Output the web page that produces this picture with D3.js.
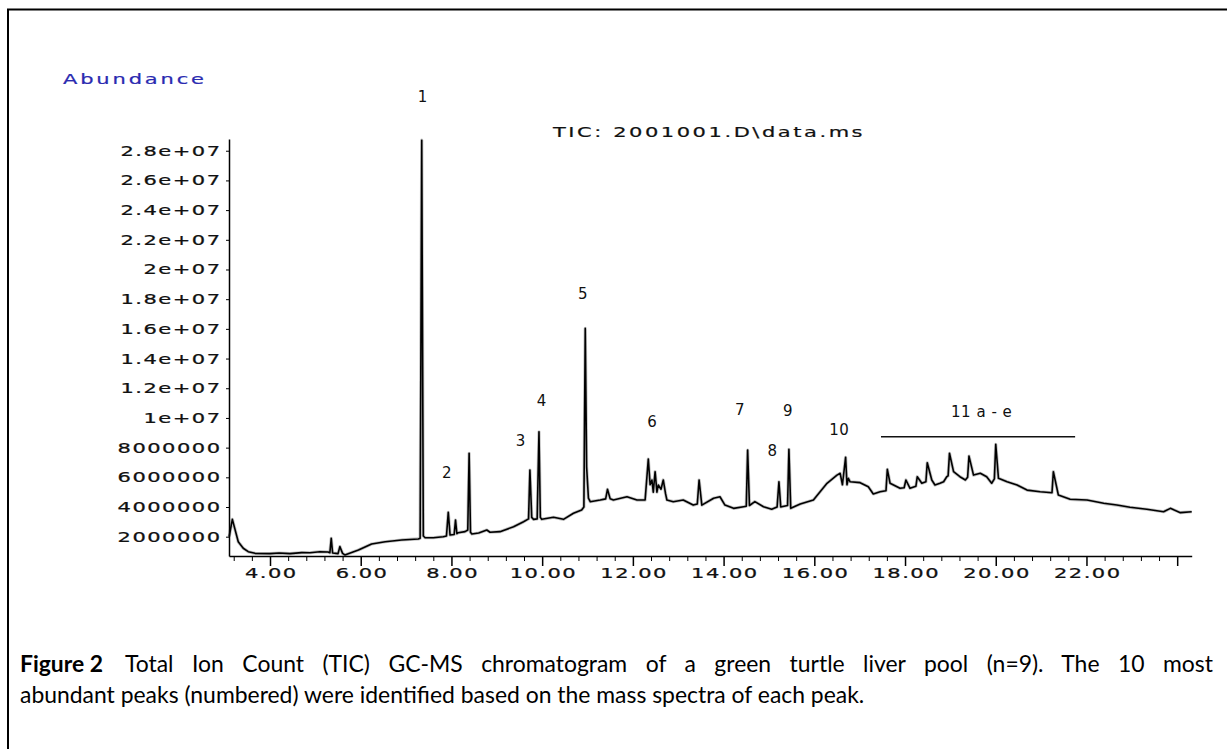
<!doctype html>
<html lang="en">
<head>
  <meta charset="UTF-8">
  <title>TIC GC-MS chromatogram</title>
  <script src="https://d3js.org/d3.v7.min.js"></script>
  <style>
    body { margin: 0; background: #fff; }
    .pix { font-family: "DejaVu Sans", sans-serif; font-size: 14px; letter-spacing: 1px; }
    .cap { font-family: Lato, "Open Sans", sans-serif; font-size: 20px; fill: #000; }
  </style>
</head>
<body>
  <div id="myDiv"></div>
  <script type="text/javascript">
    // retention time (min)
    var times = [
      3.10, 3.17, 3.30, 3.41, 3.52, 3.67, 4.00, 4.20, 4.44, 4.70,
      4.88, 5.10, 5.28, 5.32, 5.35, 5.38, 5.50, 5.54, 5.60, 5.65,
      5.95, 6.24, 6.54, 6.90, 7.27, 7.31, 7.345, 7.38, 7.42, 7.60,
      7.82, 7.89, 7.93, 7.97, 8.06, 8.09, 8.12, 8.15, 8.30, 8.36,
      8.39, 8.42, 8.45, 8.60, 8.78, 8.85, 9.07, 9.37, 9.59, 9.70,
      9.73, 9.77, 9.81, 9.89, 9.93, 9.96, 9.99, 10.25, 10.47, 10.69,
      10.87, 10.92, 10.95, 10.98, 11.02, 11.06, 11.28, 11.40, 11.44, 11.50,
      11.57, 11.87, 12.09, 12.27, 12.34, 12.38, 12.42, 12.45, 12.49, 12.53,
      12.56, 12.62, 12.67, 12.72, 12.75, 12.89, 13.11, 13.33, 13.42, 13.46,
      13.52, 13.78, 13.92, 14.03, 14.22, 14.44, 14.50, 14.53, 14.57, 14.69,
      14.88, 15.06, 15.18, 15.22, 15.26, 15.28, 15.41, 15.44, 15.48, 15.69,
      15.98, 16.28, 16.50, 16.57, 16.62, 16.69, 16.72, 16.75, 16.79, 17.01,
      17.19, 17.30, 17.45, 17.58, 17.61, 17.67, 17.89, 17.98, 18.02, 18.11,
      18.24, 18.27, 18.37, 18.46, 18.49, 18.59, 18.66, 18.77, 18.85, 18.92,
      18.95, 18.98, 19.07, 19.21, 19.33, 19.38, 19.41, 19.51, 19.66, 19.80,
      19.91, 19.97, 20.00, 20.06, 20.25, 20.47, 20.69, 20.98, 21.24, 21.27,
      21.38, 21.64, 22.01, 22.38, 22.67, 22.96, 23.33, 23.70, 23.85, 24.07,
      24.32
    ];
    // abundance in millions, same order as times
    var abundance = [
      2.00, 3.17, 1.66, 1.22, 0.99, 0.88, 0.86, 0.90, 0.86, 0.93,
      0.92, 0.99, 0.97, 0.92, 1.89, 0.90, 0.86, 1.33, 0.88, 0.77,
      1.10, 1.51, 1.66, 1.78, 1.85, 1.90, 28.71, 2.05, 1.93, 1.93,
      2.00, 2.05, 3.64, 2.11, 2.15, 3.12, 2.20, 2.27, 2.34, 2.45,
      7.62, 2.30, 2.18, 2.25, 2.45, 2.30, 2.34, 2.67, 3.01, 3.20,
      6.49, 3.30, 3.17, 3.20, 9.07, 3.30, 3.17, 3.31, 3.17, 3.58,
      3.80, 4.00, 16.03, 6.71, 4.60, 4.36, 4.47, 4.55, 5.19, 4.55,
      4.47, 4.69, 4.47, 4.47, 7.23, 5.50, 5.82, 5.00, 6.38, 5.00,
      5.48, 5.20, 5.82, 4.90, 4.47, 4.36, 4.47, 4.13, 4.20, 5.82,
      4.13, 4.59, 4.69, 4.13, 3.91, 4.02, 4.05, 7.84, 4.10, 4.36,
      4.02, 3.85, 4.00, 5.70, 4.00, 4.02, 4.10, 7.89, 3.91, 4.20,
      4.47, 5.60, 6.15, 6.27, 5.50, 7.35, 5.50, 5.93, 5.70, 5.64,
      5.37, 4.88, 5.03, 5.10, 6.54, 5.60, 5.26, 5.30, 5.82, 5.26,
      5.40, 6.04, 5.60, 5.70, 6.98, 5.82, 5.48, 5.60, 5.70, 6.04,
      6.10, 7.62, 6.38, 6.04, 5.82, 6.00, 7.43, 6.15, 6.27, 6.04,
      5.60, 5.90, 8.22, 5.93, 5.70, 5.48, 5.14, 5.03, 4.96, 6.38,
      4.81, 4.52, 4.47, 4.25, 4.13, 3.98, 3.85, 3.68, 3.91, 3.62,
      3.68
    ];
    // axis ticks
    var yTicks = [2e6, 4e6, 6e6, 8e6, 1e7, 1.2e7, 1.4e7, 1.6e7, 1.8e7, 2e7, 2.2e7, 2.4e7, 2.6e7, 2.8e7];
    var yTickLabels = ["2000000", "4000000", "6000000", "8000000", "1e+07", "1.2e+07", "1.4e+07",
                       "1.6e+07", "1.8e+07", "2e+07", "2.2e+07", "2.4e+07", "2.6e+07", "2.8e+07"];
    var xTicks = [4, 6, 8, 10, 12, 14, 16, 18, 20, 22, 24];
    var xTickLabels = ["4.00", "6.00", "8.00", "10.00", "12.00", "14.00", "16.00", "18.00", "20.00", "22.00", ""];
    // numbered peaks: label, retention time, height of label (millions)
    var peakNames = ["1", "2", "3", "4", "5", "6", "7", "8", "9", "10", "11 a - e"];
    var peakTimes = [7.37, 7.90, 9.53, 9.99, 10.90, 12.43, 14.36, 15.08, 15.42, 16.55, 19.69];
    var peakLevels = [31.6, 6.31, 8.44, 11.16, 18.34, 9.74, 10.53, 7.79, 10.48, 9.19, 10.42];
    var groupSpan = [17.47, 21.75];
    var groupLevel = 8.73;

    var data = times.map(function(t, i) { return {t: t, v: abundance[i] * 1e6}; });

    var svg = d3.select("#myDiv").append("svg")
      .attr("width", 1227)
      .attr("height", 749)
      .style("display", "block");

    svg.append("rect").attr("width", 1227).attr("height", 749).attr("fill", "#fff");

    // frame
    svg.append("path")
      .attr("d", "M8,749 L8,9.5 L1227,9.5")
      .attr("fill", "none")
      .attr("stroke", "#000")
      .attr("stroke-width", 2);

    var xScale = d3.scaleLinear().domain([3.096, 24.32]).range([229, 1191.7]);
    var yScale = d3.scaleLinear().domain([0.70e6, 28.79e6]).range([556, 139]);

    // trace, with a soft grey underlay like the scanned original
    var line = d3.line()
      .x(function(d) { return xScale(d.t); })
      .y(function(d) { return yScale(d.v); });
    svg.append("path")
      .datum(data)
      .attr("d", line)
      .attr("fill", "none")
      .attr("stroke", "#999")
      .attr("stroke-opacity", 0.6)
      .attr("stroke-width", 3.2)
      .attr("stroke-linejoin", "round");
    svg.append("path")
      .datum(data)
      .attr("d", line)
      .attr("fill", "none")
      .attr("stroke", "#000")
      .attr("stroke-width", 1.6)
      .attr("stroke-linejoin", "round");

    // y axis
    var yAxis = d3.axisLeft(yScale)
      .tickValues(yTicks)
      .tickSize(3)
      .tickSizeOuter(0)
      .tickFormat(function(d, i) { return yTickLabels[i]; });
    var gy = svg.append("g")
      .attr("class", "pix")
      .attr("transform", "translate(229,0)")
      .call(yAxis);
    gy.select(".domain").attr("stroke-width", 1.5);
    gy.selectAll(".tick text")
      .attr("x", -5)
      .attr("transform", "scale(1.5,1)")
      .attr("fill", "#111")
      .attr("stroke", "#111")
      .attr("stroke-width", 0.25)
      .style("font-size", "14px");

    // x axis, major and minor ticks
    var minorTicks = d3.range(3.2, 24.1, 0.4).filter(function(d) {
      return Math.abs(d / 2 - Math.round(d / 2)) > 0.01;
    });
    svg.append("g")
      .attr("transform", "translate(0,556)")
      .call(d3.axisBottom(xScale).tickValues(minorTicks).tickSize(5).tickSizeOuter(0).tickFormat(""))
      .select(".domain").remove();
    var xAxis = d3.axisBottom(xScale)
      .tickValues(xTicks)
      .tickSize(10)
      .tickSizeOuter(0)
      .tickFormat(function(d, i) { return xTickLabels[i]; });
    var gx = svg.append("g")
      .attr("class", "pix")
      .attr("transform", "translate(0,556)")
      .call(xAxis);
    gx.select(".domain").attr("stroke-width", 1.5);
    gx.selectAll(".tick line").attr("stroke-width", 1.5);
    gx.selectAll(".tick text")
      .attr("x", 0.5)
      .attr("y", 12)
      .attr("fill", "#111")
      .attr("stroke", "#111")
      .attr("stroke-width", 0.25)
      .style("font-size", "14px")
      .each(function() {
        // stretch each label about its own tick
        var g = d3.select(this.parentNode);
        var tx = +g.attr("transform").match(/translate\(([^,]+)/)[1];
        g.attr("transform", "translate(" + tx + ",0)");
        d3.select(this).attr("transform", "scale(1.5,1)");
      });

    // Abundance label and title
    svg.append("text")
      .attr("class", "pix")
      .attr("transform", "translate(63,84) scale(1.5,1)")
      .style("letter-spacing", "1.9px")
      .attr("fill", "#2a2ab0")
      .attr("stroke", "#2a2ab0")
      .attr("stroke-width", 0.2)
      .text("Abundance");
    svg.append("text")
      .attr("class", "pix")
      .attr("transform", "translate(553,137) scale(1.5,1)")
      .style("letter-spacing", "1.7px")
      .attr("fill", "#111")
      .attr("stroke", "#111")
      .attr("stroke-width", 0.2)
      .text("TIC: 2001001.D\\data.ms");

    // peak numbers
    svg.selectAll(".peak")
      .data(peakNames)
      .enter()
      .append("text")
        .attr("class", "peak")
        .attr("x", function(d, i) { return xScale(peakTimes[i]); })
        .attr("y", function(d, i) { return yScale(peakLevels[i] * 1e6); })
        .attr("text-anchor", "middle")
        .attr("dominant-baseline", "central")
        .style("font-family", "DejaVu Sans, sans-serif")
        .style("font-size", "15px")
        .style("letter-spacing", "0.5px")
        .attr("fill", "#111")
        .text(function(d) { return d; });
    svg.append("line")
      .attr("x1", xScale(groupSpan[0]))
      .attr("x2", xScale(groupSpan[1]))
      .attr("y1", yScale(groupLevel * 1e6))
      .attr("y2", yScale(groupLevel * 1e6))
      .attr("stroke", "#111")
      .attr("stroke-width", 1.5);

    // caption: second line sets the font size, first line is justified to the right edge
    var cap2 = svg.append("text")
      .attr("class", "cap")
      .attr("x", 20).attr("y", 703)
      .text("abundant peaks (numbered) were identified based on the mass spectra of each peak.");
    var fs = 20 * 845 / cap2.node().getComputedTextLength();
    cap2.style("font-size", fs + "px");
    var cap0 = svg.append("text")
      .attr("class", "cap")
      .attr("x", 20).attr("y", 672)
      .style("font-size", fs + "px")
      .style("font-weight", "bold")
      .text("Figure 2");
    var cap1 = svg.append("text")
      .attr("class", "cap")
      .attr("x", 125).attr("y", 672)
      .style("font-size", fs + "px")
      .text("Total Ion Count (TIC) GC-MS chromatogram of a green turtle liver pool (n=9). The 10 most");
    var gaps = cap1.text().split(" ").length - 1;
    var extra = (1213 - 125 - cap1.node().getComputedTextLength()) / gaps;
    cap1.style("word-spacing", Math.max(0, extra) + "px");
  </script>
</body>
</html>
